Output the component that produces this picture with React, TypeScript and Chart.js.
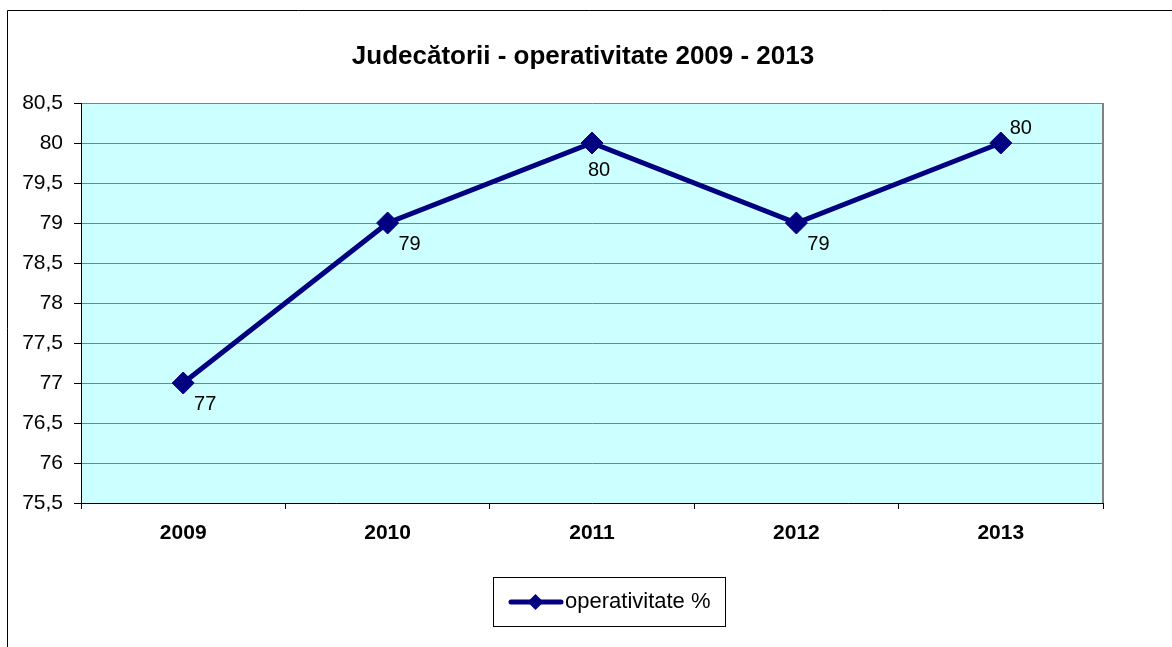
import React, { useEffect, useRef } from "react";
import { Chart, registerables } from "chart.js";

Chart.register(...registerables);

const TITLE = "Judecătorii - operativitate 2009 - 2013";
const SERIES_NAME = "operativitate %";
const YEARS = ["2009", "2010", "2011", "2012", "2013"];
const VALUES = [77, 79, 80, 79, 80];
const Y_MIN = 75.5;
const Y_MAX = 80.5;
const Y_STEP = 0.5;
// where each value label sits relative to its point
const LABEL_PLACES = ["below-right", "below-right", "below", "below-right", "above-right"];

const FONT = "Arial, 'Liberation Sans', sans-serif";
const NAVY = "#000080";

const fmt = (v: number) => String(v).replace(".", ",");

const decorPlugin = {
  id: "decor",
  beforeDraw(chart: any) {
    const { ctx, chartArea: a } = chart;
    ctx.save();
    ctx.fillStyle = "#ffffff";
    ctx.fillRect(0, 0, chart.width, chart.height);
    ctx.fillStyle = "#CCFFFF";
    ctx.fillRect(a.left, a.top, a.right - a.left, a.bottom - a.top);
    // outer frame (left + top visible)
    ctx.strokeStyle = "#000";
    ctx.lineWidth = 1;
    ctx.beginPath();
    ctx.moveTo(7.5, chart.height);
    ctx.lineTo(7.5, 10.5);
    ctx.lineTo(chart.width, 10.5);
    ctx.stroke();
    // title
    ctx.fillStyle = "#000";
    ctx.font = `bold 26px ${FONT}`;
    ctx.textAlign = "center";
    ctx.textBaseline = "middle";
    ctx.fillText(TITLE, 583, 57);
    ctx.restore();
  },
  beforeDatasetsDraw(chart: any) {
    const { ctx, chartArea: a } = chart;
    ctx.save();
    ctx.strokeStyle = "#808080";
    ctx.lineWidth = 2;
    ctx.beginPath();
    ctx.moveTo(a.right, a.top);
    ctx.lineTo(a.right, a.bottom);
    ctx.stroke();
    ctx.restore();
  },
  afterDraw(chart: any) {
    const { ctx } = chart;
    const meta = chart.getDatasetMeta(0);
    ctx.save();
    ctx.fillStyle = "#000";
    ctx.font = `20px ${FONT}`;
    ctx.textAlign = "center";
    ctx.textBaseline = "middle";
    meta.data.forEach((pt: any, i: number) => {
      const place = LABEL_PLACES[i];
      let dx = 0;
      let dy = 0;
      if (place === "below-right") { dx = 22; dy = 21; }
      else if (place === "below") { dx = 7; dy = 27; }
      else if (place === "above-right") { dx = 20; dy = -15; }
      ctx.fillText(fmt(VALUES[i]), pt.x + dx, pt.y + dy);
    });
    // legend
    const lx = 493.5, ly = 577.5, lw = 232, lh = 49;
    ctx.strokeStyle = "#000";
    ctx.lineWidth = 1;
    ctx.fillStyle = "#fff";
    ctx.fillRect(lx, ly, lw, lh);
    ctx.strokeRect(lx, ly, lw, lh);
    const cy = ly + lh / 2;
    ctx.strokeStyle = NAVY;
    ctx.lineWidth = 5;
    ctx.lineCap = "round";
    ctx.beginPath();
    ctx.moveTo(511, cy);
    ctx.lineTo(561, cy);
    ctx.stroke();
    ctx.fillStyle = NAVY;
    ctx.beginPath();
    ctx.moveTo(535.5, cy - 8);
    ctx.lineTo(543.5, cy);
    ctx.lineTo(535.5, cy + 8);
    ctx.lineTo(527.5, cy);
    ctx.closePath();
    ctx.fill();
    ctx.fillStyle = "#000";
    ctx.font = `22px ${FONT}`;
    ctx.textAlign = "left";
    ctx.textBaseline = "middle";
    ctx.fillText(SERIES_NAME, 565, cy);
    ctx.restore();
  },
};

export default function App() {
  const ref = useRef<HTMLCanvasElement>(null);

  useEffect(() => {
    document.body.style.margin = "0";
    const canvas = ref.current;
    if (!canvas) return;
    const chart = new Chart(canvas, {
      type: "line",
      data: {
        labels: YEARS,
        datasets: [
          {
            label: SERIES_NAME,
            data: VALUES,
            borderColor: NAVY,
            backgroundColor: NAVY,
            borderWidth: 5,
            pointStyle: "rectRot",
            pointRadius: 11,
            pointHoverRadius: 11,
            pointBorderWidth: 1,
            pointBackgroundColor: NAVY,
            pointBorderColor: NAVY,
            tension: 0,
          },
        ],
      },
      options: {
        responsive: false,
        animation: false,
        events: [],
        layout: { padding: { left: 0, top: 103, right: 69, bottom: 104 } },
        plugins: {
          legend: { display: false },
          title: { display: false },
          tooltip: { enabled: false },
        },
        scales: {
          x: {
            offset: true,
            grid: {
              offset: true,
              drawOnChartArea: false,
              drawTicks: true,
              tickLength: 6,
              tickColor: "#000",
            },
            border: { color: "#000", width: 1 },
            ticks: {
              color: "#000",
              font: { family: FONT, size: 21, weight: "bold" },
              padding: 12,
              maxRotation: 0,
            },
            afterFit: (s: any) => {
              s.height = 40;
            },
          },
          y: {
            min: Y_MIN,
            max: Y_MAX,
            grid: {
              color: "#808080",
              lineWidth: 1,
              tickLength: 7,
              tickColor: "#000",
            },
            border: { color: "#000", width: 1 },
            ticks: {
              stepSize: Y_STEP,
              color: "#000",
              font: { family: FONT, size: 21 },
              padding: 11,
              callback: (v: any) => fmt(Number(v)),
            },
            afterFit: (s: any) => {
              s.width = 81;
            },
          },
        },
      },
      plugins: [decorPlugin],
    });
    return () => chart.destroy();
  }, []);

  return (
    <div style={{ width: 1172, height: 647 }}>
      <canvas ref={ref} width={1172} height={647} style={{ display: "block" }} />
    </div>
  );
}
